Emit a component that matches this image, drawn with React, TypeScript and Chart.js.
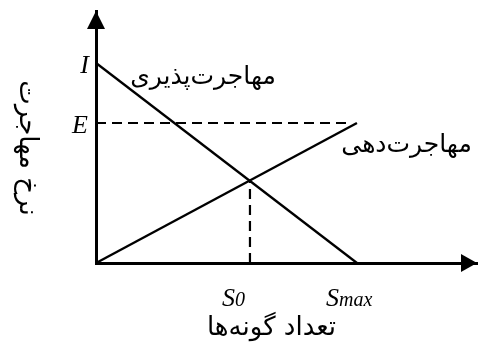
import React, { useEffect, useRef } from "react";
import { Chart, registerables } from "chart.js";

Chart.register(...registerables);

// ---- data ----
const xRange = [0, 14.6];
const yRange = [0, 12.6];
const immigrationX = [0, 10];
const immigrationY = [10, 0];
const emigrationX = [0, 10];
const emigrationY = [0, 7];
const eLevel = 7;
const eLineEndX = 9.8;
const iLevel = 10;
const s0Value = 5.9;
const s0Top = 4.1;
const sMaxValue = 10;
const immigrationLabel = "مهاجرت\u200cپذیری";
const emigrationLabel = "مهاجرت\u200cدهی";
const xTitle = "تعداد گونه\u200cها";
const yTitle = "نرخ مهاجرت";
const iTick = "I";
const eTick = "E";
const s0Tick = ["S", "0"];
const sMaxTick = ["S", "max"];

const PERSIAN_FONT = "'DejaVu Sans', sans-serif";
const SERIF_FONT = "'Liberation Serif', 'DejaVu Serif', serif";

const annotatePlugin = {
  id: "annotate",
  afterDraw(chart: any) {
    const { ctx, chartArea, scales } = chart;
    const x = scales.x;
    const y = scales.y;
    ctx.save();
    ctx.fillStyle = "#000";

    // arrow heads
    const axX = x.getPixelForValue(0);
    const axY = y.getPixelForValue(0);
    ctx.beginPath();
    ctx.moveTo(axX, chartArea.top);
    ctx.lineTo(axX - 9, chartArea.top + 18);
    ctx.lineTo(axX + 9, chartArea.top + 18);
    ctx.closePath();
    ctx.fill();
    ctx.beginPath();
    ctx.moveTo(chartArea.right, axY);
    ctx.lineTo(chartArea.right - 16, axY - 9);
    ctx.lineTo(chartArea.right - 16, axY + 9);
    ctx.closePath();
    ctx.fill();

    // I, E tick labels
    ctx.font = `italic 26px ${SERIF_FONT}`;
    ctx.textAlign = "right";
    ctx.textBaseline = "alphabetic";
    ctx.fillText(iTick, axX - 7, y.getPixelForValue(iLevel) + 10);
    ctx.fillText(eTick, axX - 8, y.getPixelForValue(eLevel) + 10);

    // S0, Smax
    ctx.textAlign = "left";
    const base = axY + 43;
    let sx = x.getPixelForValue(s0Value) - 28;
    ctx.font = `italic 26px ${SERIF_FONT}`;
    ctx.fillText(s0Tick[0], sx, base);
    sx += ctx.measureText(s0Tick[0]).width;
    ctx.font = `italic 20px ${SERIF_FONT}`;
    ctx.fillText(s0Tick[1], sx, base);

    let mx = x.getPixelForValue(sMaxValue) - 31;
    ctx.font = `italic 26px ${SERIF_FONT}`;
    ctx.fillText(sMaxTick[0], mx, base);
    mx += ctx.measureText(sMaxTick[0]).width;
    ctx.font = `italic 20px ${SERIF_FONT}`;
    ctx.fillText(sMaxTick[1], mx, base);

    // line labels
    ctx.font = `25px ${PERSIAN_FONT}`;
    ctx.textAlign = "center";
    ctx.textBaseline = "middle";
    ctx.fillText(immigrationLabel, x.getPixelForValue(4.1), y.getPixelForValue(9.3));
    ctx.fillText(emigrationLabel, x.getPixelForValue(11.9), y.getPixelForValue(5.9));

    // axis titles
    ctx.font = `26px ${PERSIAN_FONT}`;
    ctx.fillText(xTitle, (chartArea.left + chartArea.right) / 2 - 15, axY + 65);
    ctx.save();
    ctx.translate(27, (chartArea.top + axY) / 2 + 11);
    ctx.rotate(Math.PI / 2);
    ctx.fillText(yTitle, 0, 0);
    ctx.restore();

    ctx.restore();
  },
};

function toPoints(xs: number[], ys: number[]) {
  return xs.map((v, i) => ({ x: v, y: ys[i] }));
}

export default function App() {
  const ref = useRef<HTMLCanvasElement>(null);
  useEffect(() => {
    if (!ref.current) return;
    const solid = { borderColor: "#000", borderWidth: 2.4, pointRadius: 0, showLine: true, fill: false, tension: 0 };
    const dashed = { ...solid, borderWidth: 2.2, borderDash: [10, 6] };
    const chart = new Chart(ref.current, {
      type: "scatter",
      data: {
        datasets: [
          { ...solid, data: toPoints(immigrationX, immigrationY) },
          { ...solid, data: toPoints(emigrationX, emigrationY) },
          { ...dashed, data: [{ x: 0, y: eLevel }, { x: eLineEndX, y: eLevel }] },
          { ...dashed, data: [{ x: s0Value, y: 0 }, { x: s0Value, y: s0Top }] },
        ],
      },
      options: {
        responsive: false,
        animation: false,
        layout: { padding: { left: 96, top: 11, right: 2, bottom: 85 } },
        plugins: { legend: { display: false }, tooltip: { enabled: false } },
        scales: {
          x: {
            type: "linear",
            min: xRange[0],
            max: xRange[1],
            grid: { display: false, drawTicks: false },
            ticks: { display: false },
            border: { display: true, color: "#000", width: 3 },
          },
          y: {
            type: "linear",
            min: yRange[0],
            max: yRange[1],
            grid: { display: false, drawTicks: false },
            ticks: { display: false },
            border: { display: true, color: "#000", width: 3 },
          },
        },
      },
      plugins: [annotatePlugin],
    });
    return () => chart.destroy();
  }, []);
  return (
    <div style={{ position: "absolute", left: 0, top: 0, width: 479, height: 348, background: "#fff" }}>
      <canvas ref={ref} width={479} height={348} style={{ display: "block" }} />
    </div>
  );
}
